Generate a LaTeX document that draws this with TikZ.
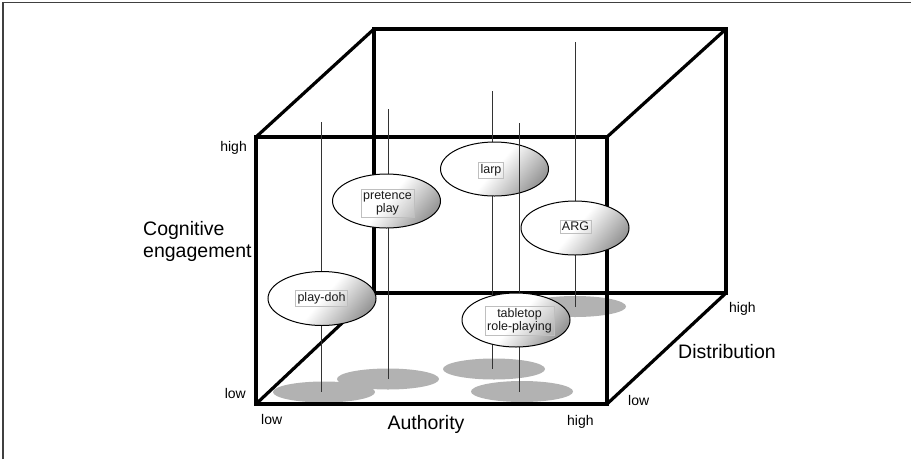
\documentclass[tikz,border=0pt]{standalone}
\usepackage{fontspec}
\setmainfont{Liberation Sans}
\usetikzlibrary{shapes.geometric}
\begin{document}
\begin{tikzpicture}[x=1pt,y=-1pt,
  edge/.style={line width=3.2pt, black},
  pole/.style={line width=0.8pt, black!80},
  shadowblob/.style={ellipse, draw=none, fill=black!30, inner sep=0pt, minimum width=102pt, minimum height=21pt},
  blob/.style={ellipse, draw=black, line width=1pt, inner sep=0pt, minimum width=108pt, minimum height=54pt,
     top color=white, bottom color=black!40, middle color=white, shading angle=50},
  tag/.style={draw=black!25, line width=0.5pt, fill=white, fill opacity=0.15, text opacity=1, inner sep=2pt, font=\fontsize{12.5}{13}\selectfont, align=center, text=black!90},
  small/.style={font=\fontsize{14}{16}\selectfont, inner sep=0pt},
  big/.style={font=\fontsize{19.5}{22}\selectfont, inner sep=0pt}
]
\useasboundingbox (0,0) rectangle (911,459);
% frame
\draw[line width=1.3pt, black!75] (3,459) -- (3,2.3) -- (911,2.3);

% shadows
\node[shadowblob] (s5) at (575,306.5) {};
\node[shadowblob] (s1) at (324,392) {};
\node[shadowblob] (s2) at (388,379) {};
\node[shadowblob] (s3) at (494,369) {};
\node[shadowblob] (s4) at (522,391.5) {};

% cube
\coordinate (F1) at (256,137);
\coordinate (F2) at (607,137);
\coordinate (F3) at (607,404);
\coordinate (F4) at (256,404);
\coordinate (B1) at (374,29);
\coordinate (B2) at (726,29);
\coordinate (B3) at (726,293);
\coordinate (B4) at (374,293);
\draw[edge] (B1) -- (B2) -- (B3) -- (B4) -- cycle;
\draw[edge] (F1) -- (B1);
\draw[edge] (F2) -- (B2);
\draw[edge] (F3) -- (B3);
\draw[edge] (F4) -- (B4);
\draw[edge] (F1) -- (F2) -- (F3) -- (F4) -- cycle;

% pole tops
\coordinate (t1) at (321,122);
\coordinate (t2) at (388,109);
\coordinate (t3) at (492,91);
\coordinate (t4) at (519,123);
\coordinate (t5) at (575,42);

% play-doh
\draw[pole] (t1) -- (t1 |- s1.center);
\node[blob] (pd) at (322,298.5) {};
\node[tag] (pdl) at (321.5,298.5) {play-doh};
% pretence play
\draw[pole] (t2) -- (t2 |- s2.center);
\node[blob] (pp) at (386.5,201) {};
\node[tag] (ppl) at (387.5,203) {pretence\\play};
% larp
\draw[pole] (t3) -- (t3 |- s3.center);
\node[blob] (lp) at (494.5,169) {};
\node[tag] (lpl) at (491,170) {larp};
% ARG
\draw[pole] (t5) -- (t5 |- s5.center);
\node[blob] (ag) at (575,228) {};
\node[tag] (agl) at (575.5,226.5) {ARG};
% tabletop
\draw[pole] (t4) -- (t4 |- s4.center);
\node[blob] (tt) at (516,320) {};
\node[tag] (ttl) at (519.5,321) {tabletop\\role-playing};

% axis labels
\node[small, anchor=base east] (chigh) at (247,151) {high};
\node[small, anchor=base east] (clow) at (246,398) {low};
\node[big, anchor=base west] (cog1) at (143,235) {Cognitive};
\node[big, anchor=base west] (cog2) at (143,257) {engagement};
\node[small, anchor=base west] (alow) at (261,424) {low};
\node[big, anchor=base] (auth) at (426,429) {Authority};
\node[small, anchor=base west] (ahigh) at (567,425) {high};
\node[small, anchor=base west] (dlow) at (628,405.5) {low};
\node[big, anchor=base west] (dist) at (678,358) {Distribution};
\node[small, anchor=base west] (dhigh) at (729,312) {high};
\end{tikzpicture}
\end{document}
